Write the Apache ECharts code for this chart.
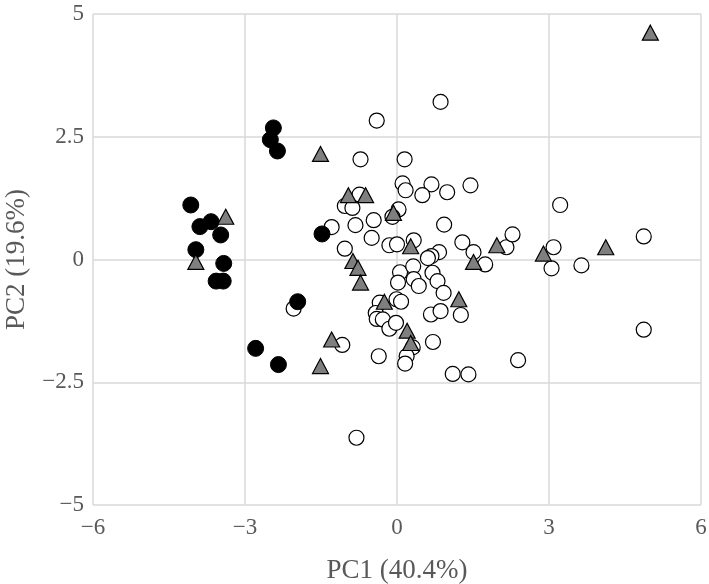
<!DOCTYPE html>
<html><head><meta charset="utf-8">
<script src="https://cdn.jsdelivr.net/npm/echarts@6/dist/echarts.min.js"></script>
<style>html,body{margin:0;padding:0;background:#fff}#c{width:709px;height:584px}</style>
</head><body><div id="c"></div>
<script>
var xTicks = [-6, -3, 0, 3, 6];
var yTicks = [-5, -2.5, 0, 2.5, 5];
var whitePts = [
[-2.04,-1.0],[-1.08,-1.74],[-0.80,-3.63],[-0.36,-1.97],
[-0.40,2.83],[-0.72,2.04],[-0.74,1.32],[-1.03,1.09],[-0.88,1.05],[-1.29,0.66],[-0.82,0.70],[-0.46,0.80],[-0.50,0.44],[-1.03,0.22],[-0.15,0.29],
[0.86,3.21],[0.15,2.04],[0.11,1.55],[0.17,1.41],[0.68,1.53],[0.50,1.31],[0.99,1.37],[1.45,1.51],[0.03,1.02],[-0.09,0.87],[0.00,0.31],[0.93,0.71],[0.33,0.39],[1.29,0.35],[1.51,0.15],[1.74,-0.10],[2.16,0.25],[2.28,0.51],[0.83,0.15],[0.68,0.07],[0.61,0.03],
[0.06,-0.26],[0.32,-0.14],[0.33,-0.40],[0.43,-0.54],[0.02,-0.47],[0.70,-0.27],[0.80,-0.44],[0.92,-0.68],
[0.67,-1.12],[0.86,-1.05],[1.26,-1.13],[0.71,-1.68],[1.10,-2.33],[1.41,-2.34],[2.39,-2.05],
[-0.34,-0.88],[-0.01,-0.81],[0.08,-0.86],[-0.42,-1.09],[-0.40,-1.21],[-0.28,-1.22],[-0.15,-1.41],[-0.02,-1.29],[0.31,-1.79],[0.19,-1.97],[0.16,-2.12],
[3.22,1.11],[3.09,0.25],[3.05,-0.18],[3.64,-0.12],[4.87,0.47],[4.87,-1.43]
];
var blackPts = [
[-2.44,2.68],[-2.50,2.44],[-2.36,2.21],[-4.07,1.11],[-3.89,0.67],[-3.67,0.77],[-3.48,0.50],[-3.97,0.20],[-3.42,-0.08],[-3.57,-0.44],[-3.43,-0.44],[-1.48,0.52],[-1.96,-0.86],[-2.79,-1.81],[-2.34,-2.14]
];
var trianglePts = [
[-3.38,0.87],[-3.97,-0.05],[-1.51,2.15],[-0.96,1.31],[-0.62,1.31],[-0.07,0.95],[-0.87,-0.03],[-0.77,-0.17],[-0.72,-0.47],[0.27,0.27],[1.51,-0.05],[1.97,0.29],[2.89,0.12],[4.12,0.25],[5.00,4.62],[-1.29,-1.63],[-1.51,-2.17],[-0.25,-0.86],[1.22,-0.81],[0.20,-1.45],[0.27,-1.70]
];
var FONT = '"Liberation Serif", "Times New Roman", serif';
function fmt(v){ return String(v).replace('-', '\u2212'); }
var chart = echarts.init(document.getElementById('c'));
chart.setOption({
  animation: false,
  grid: {left: 93, right: 8, top: 14, bottom: 79, containLabel: false, outerBoundsMode: 'none'},
  xAxis: {
    type: 'value', min: xTicks[0], max: xTicks[xTicks.length-1], interval: 3,
    name: 'PC1 (40.4%)', nameLocation: 'middle', nameGap: 52,
    nameTextStyle: {fontFamily: FONT, fontSize: 27, color: '#595959'},
    axisLine: {show: false}, axisTick: {show: false},
    axisLabel: {fontFamily: FONT, fontSize: 23, color: '#595959', margin: 11, formatter: fmt},
    splitLine: {show: true, lineStyle: {color: '#d9d9d9', width: 1.5}}
  },
  yAxis: {
    type: 'value', min: yTicks[0], max: yTicks[yTicks.length-1], interval: 2.5,
    name: 'PC2 (19.6%)', nameLocation: 'middle', nameGap: 63,
    nameTextStyle: {fontFamily: FONT, fontSize: 27, color: '#595959'},
    axisLine: {show: false}, axisTick: {show: false},
    axisLabel: {fontFamily: FONT, fontSize: 23, color: '#595959', margin: 9, formatter: fmt},
    splitLine: {show: true, lineStyle: {color: '#d9d9d9', width: 1.5}}
  },
  series: [
    {type: 'scatter', data: whitePts, symbol: 'circle', symbolSize: 15,
     itemStyle: {color: '#ffffff', borderColor: '#000', borderWidth: 1.2, opacity: 1}},
    {type: 'scatter', data: blackPts, symbol: 'circle', symbolSize: 16,
     itemStyle: {color: '#000000', borderColor: '#000', borderWidth: 1, opacity: 1}},
    {type: 'scatter', data: trianglePts, symbol: 'triangle', symbolSize: [16, 15],
     itemStyle: {color: '#7f7f7f', borderColor: '#000', borderWidth: 1.2, opacity: 1}}
  ]
});
</script></body></html>
